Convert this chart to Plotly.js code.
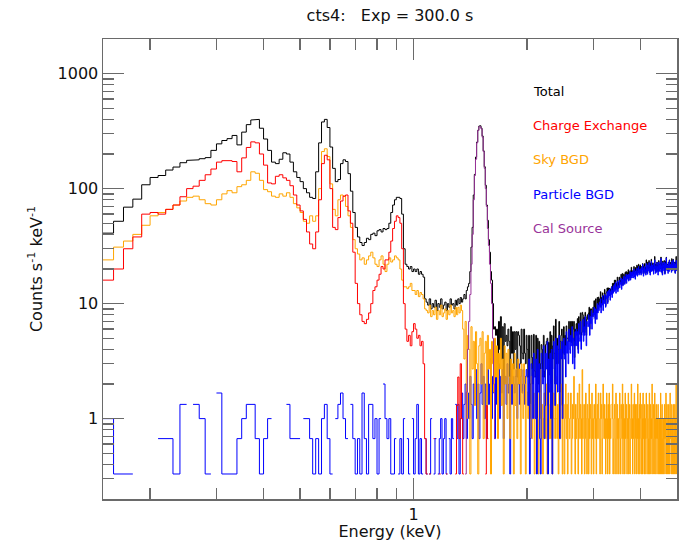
<!DOCTYPE html>
<html><head><meta charset="utf-8">
<script src="https://cdn.plot.ly/plotly-3.0.1.min.js"></script>
<style>html,body{margin:0;padding:0;background:#fff}#chart{width:680px;height:541px}</style>
</head><body><div id="chart"></div>
<script>
// Channel grid (keV): 10 eV channels from 0.15 to 5.0 keV
const channelStart = 0.15, channelWidth = 0.01, channelCount = 485;

// Rates in counts s^-1 keV^-1, one value per channel (0 = empty channel)
const totalBelow2 = [
41,52,69,81,108,125,130,145,154,168,
176,178,182,186,215,245,262,272,290,240,
310,360,395,400,335,270,215,170,165,180,
205,200,170,140,125,115,100,92,84,82,
140,250,380,400,340,230,150,115,120,165,
178,172,135,95,62,46,38,34,32,34,
37,36,40,41,39,43,44,42,45,44,
45,50,62,72,80,84,84,82,60,30,
22,21,20,21,19,
20,19,20,18,19,18,17,11,10.3,9.7,
11,9,10,9.3,10.7,8.7,10,9.3,11,9,
9.7,10.3,8.7,10,9.3,11,9.7,10,9,10.7,
9.7,11,10,11.3,10.3,11,12,11,13,14,
15,19,31,46,88,
133,188,254,322,350,352,335,287,213,155,
107,72,53,36,28,19,16,10,6,6.3,
5.3,6,3,7,4,7.7,3.3,6.3,2,6.7,
4.7,5.3,4.3,6,4.7,2,6.3,3.7,5.7,2.7,
5.7,4,5.7,2.3,5.7,5.3,4.3,3,6,3.7,
3.3,6,3.7,3,5.3];
const totalAbove2 = [
4,2.3,5.3,1,2,5.3,3.4,2,5.4,2.6,
2.3,5.3,1,5,2,4.7,1.7,3,4.4,4,
2.3,5.3,2.3,2.6,4.4,4.7,5,1.3,4.6,2.4,
5.7,1.7,5.3,0.67,4.3,6.4,3.7,2,7.3,3,
5,3,4,7,1.7,4.7,5.3,6,1.3,4.7,
6.3,3.6,5.3,4.3,6.4,5,5,4.7,7,4.7,
4.7,7,4.6,7,4.3,6,7,3.4,6,5.6,
6.7,5.3,7.4,4,7.7,7,5.4,8.3,5,5.6,
8.4,8,5.7,7.6,5.6,8.4,7.7,5.3,7.3,8,
7.3,8.3,9.3,6,9,7.7,9,7.7,8,9.3,
8,10.6,9,7.4,11,9,8.3,11.3,9,11.4,
9.7,11,9.6,12.7,9.3,11.3,10,12.4,10.7,11.7,
10.7,13.3,11.7,9.6,12.4,12.7,13.7,10.3,12.6,13.7,
13.4,13.6,11.7,13.4,13.3,14,12.3,15,12.6,15,
13.7,16,13.3,16,14,15,13.6,17,13.4,15.3,
14.3,17,15.4,16,15,18,14.3,15.7,18.3,14.6,
16.6,18,17,15,18.7,16.4,19,16.3,17,18.7,
17,19.7,16,18.7,18,19.3,16.7,18.3,20.7,17.4,
18.3,19.3,18,19,21,18.7,19,17,20.6,18.7,
18.3,21.6,18,21,19,22,18.4,21,18.6,21.7,
20.3,18.4,21,19.6,20.7,22.3,20.4,18,21.3,19.3,
22.3,18.6,20.7,18.4,24,20,20.6,18.7,23,20,
20,23.7,20.4,20.6,18.4,22.6,20.3,24.3,19.7,22.7,
22.4,19.6,21.7,19.3,22.6,20.7,25.7,20,19.3,22,
21.6,19.4,23,20.7,21.7,19,21,23.7,20.3,22,
20,22.3,22,25.4,19,22.3,21.3,18,23.4,21.7,
22,20.3,23.7,21.6,18.3,21.7,23.3,21.4,25.3,20.7,
20.6,22,20.7,19.3,23,22,19.7,24,21.3,23,
22.7,20.7,21.6,19.4,24.6,20.3,22.7,20,24.3,22,
21.3,23,20.4,22.6,18.6,23,21.4,25.7,19.6,21.7];

const chargeExStart = 0.15;
const chargeEx = [
16,20,30,38,60,62,60,66,72,85,
100,105,118,132,148,170,175,175,172,140,
185,228,255,250,200,160,112,110,128,132,
124,118,106,88,72,64,54,42,33,30,
42,80,165,195,178,100,46,44,56,78,
86,88,64,50,28,15,10,8,7,6.7,
7.3,8.3,10,13,14,16,18,21,20,24,
24,28,35,45,52,58,56,50,30,10,
6,4.7,5.3,4.3,5.7,6.7,6,5,5.3,4.3,
4.7,3,0.67,0.33,0,0.33,0,0,0.67,0,
0,0,0.33,0,0,0,0,0.33,0,0,
0,0,0,0,0.33,1.3,2.3,0.67,3,1,
0.33,0,0,0,0,0,0,0,0,0,
0,0,0,0,0,0,0,0,0,0,
0.33,1.3,0.67];

const skyBelow2 = [
24,31,35,40,48,58,62,66,72,78,
84,86,80,74,72,80,90,96,92,104,
108,118,140,136,118,98,94,86,84,90,
86,92,84,74,68,62,52,50,58,52,
58,100,210,222,190,110,66,58,80,88,
86,70,58,46,36,30,27,24,25,22,
24,26,28,25,22,21,24,26,22,19,
22,25,23,24,26,25,24,20,16,14,
14,13.5,14,15,13,
13,12,13,11.5,12.5,12,11,9,8.7,8.3,
9.7,7.7,8.7,8,9.3,7.3,8.7,8,9.7,7.7,
8.3,9,7.3,8.7,8,9.7,8.3,8.7,7.7,9.3,
8,9.3,8.3,9.7,8.7,6,3.3,7,1,5.3,
4,0.33,6.3,2.7,4.7,
1.3,5.7,3,0.33,4.3,5,2,5.7,0.67,3.7,
4.7,1,5.3,2.7,4,0.33,4.7,3,1.7,5,
2.3,4.3,0.67,3.7,2.7,5,1.3,3.3,0.33,4.3,
2,3.7,1,4,2.3,0.67,3.3,2,3,0.33,
3.7,1.3,2.7,0.67,3.3,2,2.7,0.33,3,1.7,
1,3,2,0.33,2.3];
const skyAbove2 = [
1.7,1,2,0.67,1.33,2.33,0.67,1,1.67,0.33,
1.33,2,0.67,1,0.33,1.67,1,2.67,0.67,1.33,
0.33,1,1.67,1.33,0.67,2,0.33,1,1.33,0.67,
2,0.67,1.33,0.33,1,1.67,1,0.67,2.33,1,
0.67,1.33,0.33,1.67,1,0.67,2,1.33,0.33,1,
1.33,0.33,1,2,0.67,1.33,0.33,1.67,1,0.67,
1,1.67,0.33,0.67,1.33,1,2.33,0.67,0.33,1.33,
0.67,1,1.67,0.33,1,2,0.67,1.33,1,0.33,
2.67,0.67,1,1.33,0.33,0.67,1.67,1,0.33,1.33,
1,0.33,2,0.67,1.33,1,0.33,1.67,0.67,1,
0.33,1.33,1,0.67,2,0.33,1,1.33,0.67,1.67,
1,0.67,0.33,1.67,1,1.33,0.33,0.67,2,1,
0.67,1.33,1,0.33,0.67,1.67,1,0.33,1.33,0.67,
1.67,0.33,1,0.67,1.33,0,1,2,0.33,0.67,
1,1.33,0.33,0.67,1.67,1,0.33,1.33,0.67,1,
0.33,1,1.67,0.67,0.33,1.33,1,0.67,2,0.33,
1.33,0.67,1,0.33,1.67,0.67,1,1.33,0.33,1,
0.67,1.67,0.33,1,1.33,0.33,0.67,1,2,0.67,
1,0.33,1.33,0.67,1,1.67,0.33,0.67,1.33,1,
0.33,1.33,0.67,2,0.33,1,0.67,1.33,0.33,1.67,
1,0.67,0.33,1.33,1,0.33,1.67,0.67,1,0.33,
1.33,0.33,1,0.67,1.67,1,0.33,0.67,1.33,0.67,
0.33,1,1.67,0.33,0.67,1.33,0.33,1,0.67,2,
0.67,0.33,1,1.33,0.33,0.67,1.67,0.33,1,0.67,
1.33,0.67,0.33,1,0.67,1.33,0.33,0.67,1,0.33,
1,0.33,1.67,0.67,0.33,1,1.33,0.33,0.67,1,
0.33,1,0.67,1.33,0.33,0.67,1,1.67,0.33,0.67,
1.33,0.33,0.67,1,0.33,1.33,0.67,0.33,1,1.67,
0.67,1,0.33,0.67,1.33,0.33,1,0.67,0.33,1.33,
1,0.33,0.67,1.33,0.33,1,0.67,2,0.33,0.67];

const particleBelow2 = [
1,0.33,0.33,0,0,0,0.67,0.67,0.33,1.33,
0,1.33,1,0.33,0,1.67,0.33,0.33,0.33,0.67,
1,1.33,1.33,0.67,0.33,0.67,1,0,0,0,
0,1.33,0.67,0.67,0.67,0,1,1,0.67,0.33,
0.67,0.33,1,1.33,0.67,0.33,0,1,1.33,1.67,
1,0.67,0,1.33,0.67,0.33,0.67,0.33,1.67,0.67,
0.33,1.33,1.33,0.67,1,0.33,1,0,2,1,
0.67,1,0.33,0.33,0.67,0,0.33,0.67,0.33,1,
0,0.67,0.33,0,1,0.33,0.67,1.33,0.33,0.67,
0.33,0,0.67,0.33,0,0.33,1,0,0.33,0.67,
0,0.33,0.67,1,0.33,0.67,1,0.33,0,0.67,
0.33,1,0.67,0,1.33,0.67,1.33,0.33,1,1.67,
0.67,1.33,2,0.67,1.67,1,2.33,1.33,0.67,2,
1.33,2.67,1,2,0.67,1.67,3,1.33,2.33,1,
2,0.67,2.67,1.33,2,3.33,1,2.33,1.67,0.67,
2.67,1.33,2,3,1,2.33,1.67,2.67,0.67,2,
2.33,1.33,3,1.67,2,0.33,2.67,1.33,2.33,2,
1.67,2.33,2.67,1,2,3,1.33,2.33,2.67,1.67,
2,2.67,1.33,2.33,2.67];
const particleAbove2 = [
2.3,1.3,3.3,0.33,0.67,3,2.7,1,3.7,2.3,
1,3.3,0.33,4,1.7,3,0.67,0.33,3.7,2.7,
2,4.3,0.67,1.3,3.7,2.7,4.7,0.33,3.3,1.7,
3.7,1,4,0.33,3.3,4.7,2.7,1.3,5,2,
4.3,1.7,3.7,5.3,0.67,4,3.3,4.7,1,3.7,
5,3.3,4.3,2.3,5.7,3.7,4.7,3,6,4,
3.7,5.3,4.3,6.3,3,5,4.7,2.7,5.7,4.3,
6,4.3,5.7,3.7,6.7,5,4.7,7,4,5.3,
5.7,7.3,4.7,6.3,5.3,7.7,6,4.3,7,6.7,
6.3,8,7.3,5.3,7.7,6.7,8.7,6,7.3,8.3,
7.7,9.3,8,6.7,9,8.7,7.3,10,8.3,9.7,
8.7,10.3,9.3,11,8.3,10,9.7,11.7,8.7,10.7,
10,12,10.7,9.3,11.7,11,12.7,10,11.3,13,
11.7,13.3,10.7,12.7,12,14,11.3,13,12.3,14.3,
12.7,14.7,13,15.3,12.3,14,13.3,15.7,12.7,14.3,
14,16,13.7,15.3,14.7,16.7,13.3,15,16.3,14.3,
15.3,17.3,16,14.7,17,15.7,18,15,16.7,17.7,
16.3,18,15.7,17.7,16.7,19,16,17.3,18.7,16.7,
17.3,19,16.7,18.3,20,17,18.7,16.3,19.3,17.7,
18,20.3,17.3,19,18.7,21,17.7,19.7,18.3,20,
19.3,17.7,20.7,18.3,19.7,22,18.7,17.3,20.3,19,
21,18.3,19.7,17.7,22.3,19,20.3,18,21.7,19.3,
19.7,22.7,18.7,20.3,17.7,21.3,20,23.3,19,20.7,
21.7,19.3,20.7,18,22.3,20,24,19.7,18.3,21.3,
20.3,18.7,22.7,19.7,21,17.7,20.7,23,19.3,21.7,
19,22,20.3,24.7,18.7,21.3,20,17.7,22.7,20.7,
21.7,19.3,23,20.3,18,21,22.3,19.7,25,20,
19.3,21.7,20,18.3,22.7,20.7,19,23.7,20.3,21.3,
22,19.7,21.3,18.7,23.3,20,21.7,19.3,24,20.7,
20.3,22.7,19.7,21.3,18.3,22,20.7,23.7,19.3,21];

const calStart = 1.37;
const calSource = [0.33,1.7,4,7,12,22,40,80,130,180,250,320,345,345,330,280,210,150,100,70,45,32,22,15,10,5,2,0.67];

const seriesNames = ['Total','Charge Exchange','Sky BGD','Particle BGD','Cal Source'];
const seriesColors = ['#000000','#ff0000','#ffa500','#0000ff','#993399'];
const xTickVals = [1], xTickText = ['1'];
const xMinorVals = [0.2,0.3,0.4,0.5,0.6,0.7,0.8,0.9,2,3,4];
const yTickVals = [1,10,100,1000], yTickText = ['1','10','100','1000'];
const yMinorVals = [0.2,0.3,0.4,0.5,0.6,0.7,0.8,0.9,2,3,4,5,6,7,8,9,20,30,40,50,60,70,80,90,200,300,400,500,600,700,800,900,2000];

// channel edges
const r3 = v => Math.round(v * 1000) / 1000;
const edges = [];
for (let k = 0; k <= channelCount; k++) edges.push(r3(channelStart + k * channelWidth));
const chanIndex = e => edges.findIndex(x => Math.abs(x - e) < 1e-6);

function stepPath(startIdx, vals) {
  const xs = [], ys = [];
  for (let i = 0; i < vals.length; i++) {
    const v = vals[i], j = startIdx + i;
    if (v > 0 && j + 1 < edges.length) { xs.push(edges[j], edges[j + 1]); ys.push(v, v); }
    else { xs.push(null); ys.push(null); }
  }
  return {x: xs, y: ys};
}
function mk(p, i) {
  return {x: p.x, y: p.y, type: 'scatter', mode: 'lines', name: seriesNames[i],
    line: {color: seriesColors[i], width: 1}, connectgaps: false, hoverinfo: 'skip'};
}
const idx2keV = chanIndex(2.0);
// drawing order: total, sky (above 2 keV), particle, sky (below 2 keV), charge exchange, cal source
const traces = [
  mk(stepPath(0, totalBelow2.concat(totalAbove2)), 0),
  mk(stepPath(idx2keV, skyAbove2), 2),
  mk(stepPath(0, particleBelow2.concat(particleAbove2)), 3),
  mk(stepPath(0, skyBelow2), 2),
  mk(stepPath(chanIndex(chargeExStart), chargeEx), 1),
  mk(stepPath(chanIndex(calStart), calSource), 4)
];

const font = {family: 'DejaVu Sans, sans-serif', size: 16, color: '#111'};
const axisCommon = {
  type: 'log', showgrid: false, zeroline: false, showline: true, linecolor: '#6a6a6a', linewidth: 1.5,
  mirror: 'ticks', ticks: 'inside', ticklen: 21, tickwidth: 1.3, tickcolor: '#6a6a6a',
  tickmode: 'array', tickfont: font
};
const legendY = [0.885, 0.813, 0.737, 0.661, 0.587];
const layout = {
  width: 680, height: 541, showlegend: false,
  paper_bgcolor: '#fff', plot_bgcolor: '#fff',
  margin: {l: 103, r: 3, t: 39, b: 42},
  font: font,
  title: {text: 'cts4:\u00a0\u00a0\u00a0Exp = 300.0 s', font: {family: 'DejaVu Sans, sans-serif', size: 16, color: '#111'},
          x: 0.5, xref: 'paper', xanchor: 'center', y: 0.972, yref: 'container', yanchor: 'middle'},
  xaxis: Object.assign({}, axisCommon, {
    range: [Math.log10(0.15), Math.log10(5)], tickvals: xTickVals, ticktext: xTickText,
    minor: {tickmode: 'array', tickvals: xMinorVals, ticks: 'inside', ticklen: 11, tickwidth: 1.3, tickcolor: '#6a6a6a'},
    title: {text: 'Energy (keV)', font: font, standoff: 2}
  }),
  yaxis: Object.assign({}, axisCommon, {
    range: [Math.log10(0.2), Math.log10(2000)], tickvals: yTickVals, ticktext: yTickText,
    minor: {tickmode: 'array', tickvals: yMinorVals, ticks: 'inside', ticklen: 11, tickwidth: 1.3, tickcolor: '#6a6a6a'},
    title: {text: 'Counts s<sup>-1</sup> keV<sup>-1</sup>', font: font, standoff: 11}
  }),
  annotations: seriesNames.map((n, i) => ({
    text: n, xref: 'paper', yref: 'paper', x: 0.746, y: legendY[i], xanchor: 'left', yanchor: 'middle',
    showarrow: false, font: {family: 'DejaVu Sans, sans-serif', size: 13, color: seriesColors[i]}
  }))
};
Plotly.newPlot('chart', traces, layout, {staticPlot: true, displayModeBar: false});
</script></body></html>
